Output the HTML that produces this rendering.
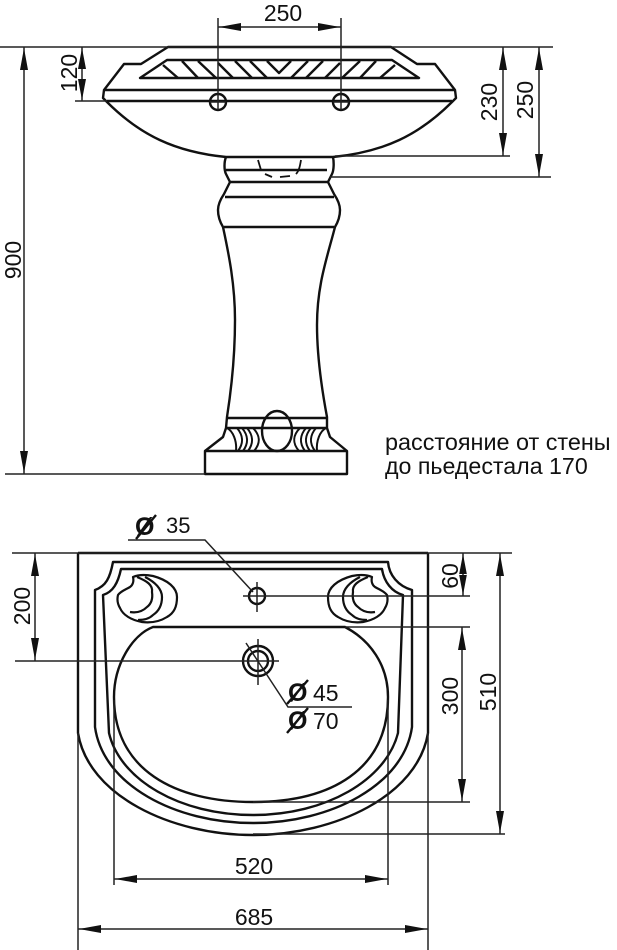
<!DOCTYPE html>
<html>
<head>
<meta charset="utf-8">
<style>
html,body{margin:0;padding:0;background:#fff}
svg{display:block}
text{font-family:"Liberation Sans",sans-serif;font-size:23px;fill:#111}
.o{fill:none;stroke:#111;stroke-width:2.4;stroke-linejoin:round}
.d{fill:none;stroke:#222;stroke-width:1.5}
.a{fill:#111;stroke:none}
.p{font-size:25px;font-weight:bold}
</style>
</head>
<body>
<svg width="617" height="950" viewBox="0 0 617 950" xmlns="http://www.w3.org/2000/svg">
<defs>
<g id="half">
<path d="M163 65L178 78M182 61L198 78M198 61L216 78M218 63L233 78M235 61L252 78M250 61L267 78"/>
</g>
<g id="blob">
<path d="M133 577C140 574 148 575 153 576C168 580 177 588 177 597C177 607 174 613 167 617C159 622 150 623 142 622C131 620 123 615 120 608C117 603 117 599 118 595C121 591 125 590 130 587C133 585 134 581 133 577Z"/>
<path d="M137 577C147 581 153 585 152 592C153 599 151 604 147 607C142 612 136 613 130 612"/>
<path d="M145 577C155 582 162 589 162 597C162 605 159 611 153 615C149 619 143 620 138 620"/>
</g>
<g id="fl">
<path d="M227 428C233 431 237 441 236 451M237 428C243 435 244 443 238 451M242 428C248 435 249 443 243 451M247 428C253 435 254 443 248 451M253 428C260 435 261 443 254 451"/>
</g>
</defs>

<!-- TOP VIEW: basin -->
<path class="o" d="M168 47L391 47L417 64L435 64L455 90L456 98L452 102C419 135 384 152 333 157L226 157C175 152 140 135 107 102L103 98L104 90L124 64L141 64Z"/>
<path class="o" d="M104 90L455 90M107 101L452 101"/>
<path class="o" d="M167 60L392 60L419 78L140 78Z"/>
<g class="o">
<use href="#half"/>
<use href="#half" transform="matrix(-1 0 0 1 558 0)"/>
<path d="M267 61L279 73L291 61"/>
</g>
<circle class="o" cx="218" cy="102" r="8"/>
<circle class="o" cx="341" cy="102" r="8"/>
<path class="d" d="M210 102H226M341 94V110M333 102H349M218 18V110M341 18V94"/>

<!-- pedestal -->
<path class="o" d="M226 157C224 162 224 170 226 174L230 182L224 194C220 200 218 205 218 210C218 217 220 222 223 227C229 255 235 285 235 320C235 355 232 385 227 417L226 428L223 437L205 451L205 474L347 474L347 451L330 437L327 428L327 417C321 385 317 355 317 325C317 285 327 258 335 227C338 222 340 217 340 210C340 205 338 200 334 194L328 182L332 174C334 170 334 162 333 157"/>
<path class="o" d="M226 170L327 170M230 182L328 182M225 197L334 197M224 227L334 227M205 451L347 451M227 418L327 418M226 428L327 428"/>
<ellipse class="o" cx="277" cy="431" rx="15" ry="20"/>
<g class="o" style="stroke-width:2">
<use href="#fl"/>
<use href="#fl" transform="matrix(-1 0 0 1 553 0)"/>
</g>
<path class="o" style="stroke-width:1.8" d="M258 160L261 170M265 174L272 177M280 177L290 176M296 174C299 171 300 166 301 160"/>

<!-- top dimensions -->
<path class="d" d="M0 47H553M75 101H107M5 474H205M335 156H510M330 177H551"/>
<path class="d" d="M218 27H341M82 47V101M24 47V474M503 47V156M539 47V177"/>
<path class="a" d="M219 27L241 23L241 31ZM340 27L318 23L318 31Z"/>
<path class="a" d="M82 48L86 69L78 69ZM82 100L86 79L78 79Z"/>
<path class="a" d="M24 48L28 70L20 70ZM24 473L28 451L20 451Z"/>
<path class="a" d="M503 48L507 70L499 70ZM503 155L507 133L499 133Z"/>
<path class="a" d="M539 48L543 70L535 70ZM539 176L543 154L535 154Z"/>
<text x="283" y="21" text-anchor="middle">250</text>
<text transform="translate(77 73) rotate(-90)" text-anchor="middle">120</text>
<text transform="translate(21 260) rotate(-90)" text-anchor="middle">900</text>
<text transform="translate(497 102) rotate(-90)" text-anchor="middle">230</text>
<text transform="translate(533 100) rotate(-90)" text-anchor="middle">250</text>
<text x="385" y="450" style="font-size:23.4px">расстояние от стены</text>
<text x="385" y="474" style="font-size:23.2px">до пьедестала 170</text>

<!-- BOTTOM VIEW -->
<path class="o" d="M78 553L428 553M78 553V733C88 795 170 835 253 835C336 835 418 795 428 733V553"/>
<path class="o" d="M113 562L388 562C389 575 398 586 412 590L412 727C404 785 331 823 253 823C175 823 103 785 95 727L95 590C106 586 110 578 113 562Z"/>
<path class="o" d="M121 569L382 569C384 582 392 592 403 595L398 733C386 780 326 815 253 815C180 815 120 780 109 733L103 595C113 592 118 583 121 569Z"/>
<path class="o" d="M153 627L345 627C370 640 388 665 388 697C388 770 331 802 253 802C175 802 114 770 114 697C114 665 132 635 153 627Z"/>
<g class="o" style="stroke-width:2.2">
<use href="#blob"/>
<use href="#blob" transform="matrix(-1 0 0 1 505 0)"/>
</g>

<!-- holes -->
<circle class="o" cx="257" cy="596" r="8"/>
<path class="d" d="M257 582V612M243 596H470"/>
<circle class="o" cx="258" cy="661" r="15"/>
<circle class="o" cx="258" cy="661" r="10"/>
<path class="d" d="M258 639V685M15 661H279"/>
<path class="d" d="M246 643L288 707H352M128 540H205L253 592"/>

<!-- bottom dimensions -->
<path class="d" d="M12 553H512M345 627H470M253 802H470M253 834H505"/>
<path class="d" d="M114 700V885M388 700V885M78 733V950M428 733V950"/>
<path class="d" d="M463 553V596M462 627V802M500 553V834M35 553V661M114 879H388M78 929H428"/>
<path class="a" d="M463 554L467 575L459 575ZM463 595L467 574L459 574Z"/>
<path class="a" d="M462 628L466 650L458 650ZM462 801L466 779L458 779Z"/>
<path class="a" d="M500 554L504 576L496 576ZM500 833L504 811L496 811Z"/>
<path class="a" d="M35 554L39 576L31 576ZM35 660L39 638L31 638Z"/>
<path class="a" d="M115 879L137 875L137 883ZM387 879L365 875L365 883Z"/>
<path class="a" d="M79 929L101 925L101 933ZM427 929L405 925L405 933Z"/>

<text x="254" y="874" text-anchor="middle">520</text>
<text x="254" y="925" text-anchor="middle">685</text>
<text transform="translate(30 606) rotate(-90)" text-anchor="middle">200</text>
<text transform="translate(458 576) rotate(-90)" text-anchor="middle">60</text>
<text transform="translate(458 696) rotate(-90)" text-anchor="middle">300</text>
<text transform="translate(496 692) rotate(-90)" text-anchor="middle">510</text>

<text x="135" y="535" class="p">Ø</text>
<path class="o" d="M136 539L156 515"/>
<text x="166" y="533" style="font-size:22px">35</text>
<text x="288" y="701" class="p">Ø</text>
<path class="o" d="M287 704L308 680"/>
<text x="313" y="701">45</text>
<text x="288" y="729" class="p">Ø</text>
<path class="o" d="M287 733L308 708"/>
<text x="313" y="729">70</text>
</svg>
</body>
</html>
